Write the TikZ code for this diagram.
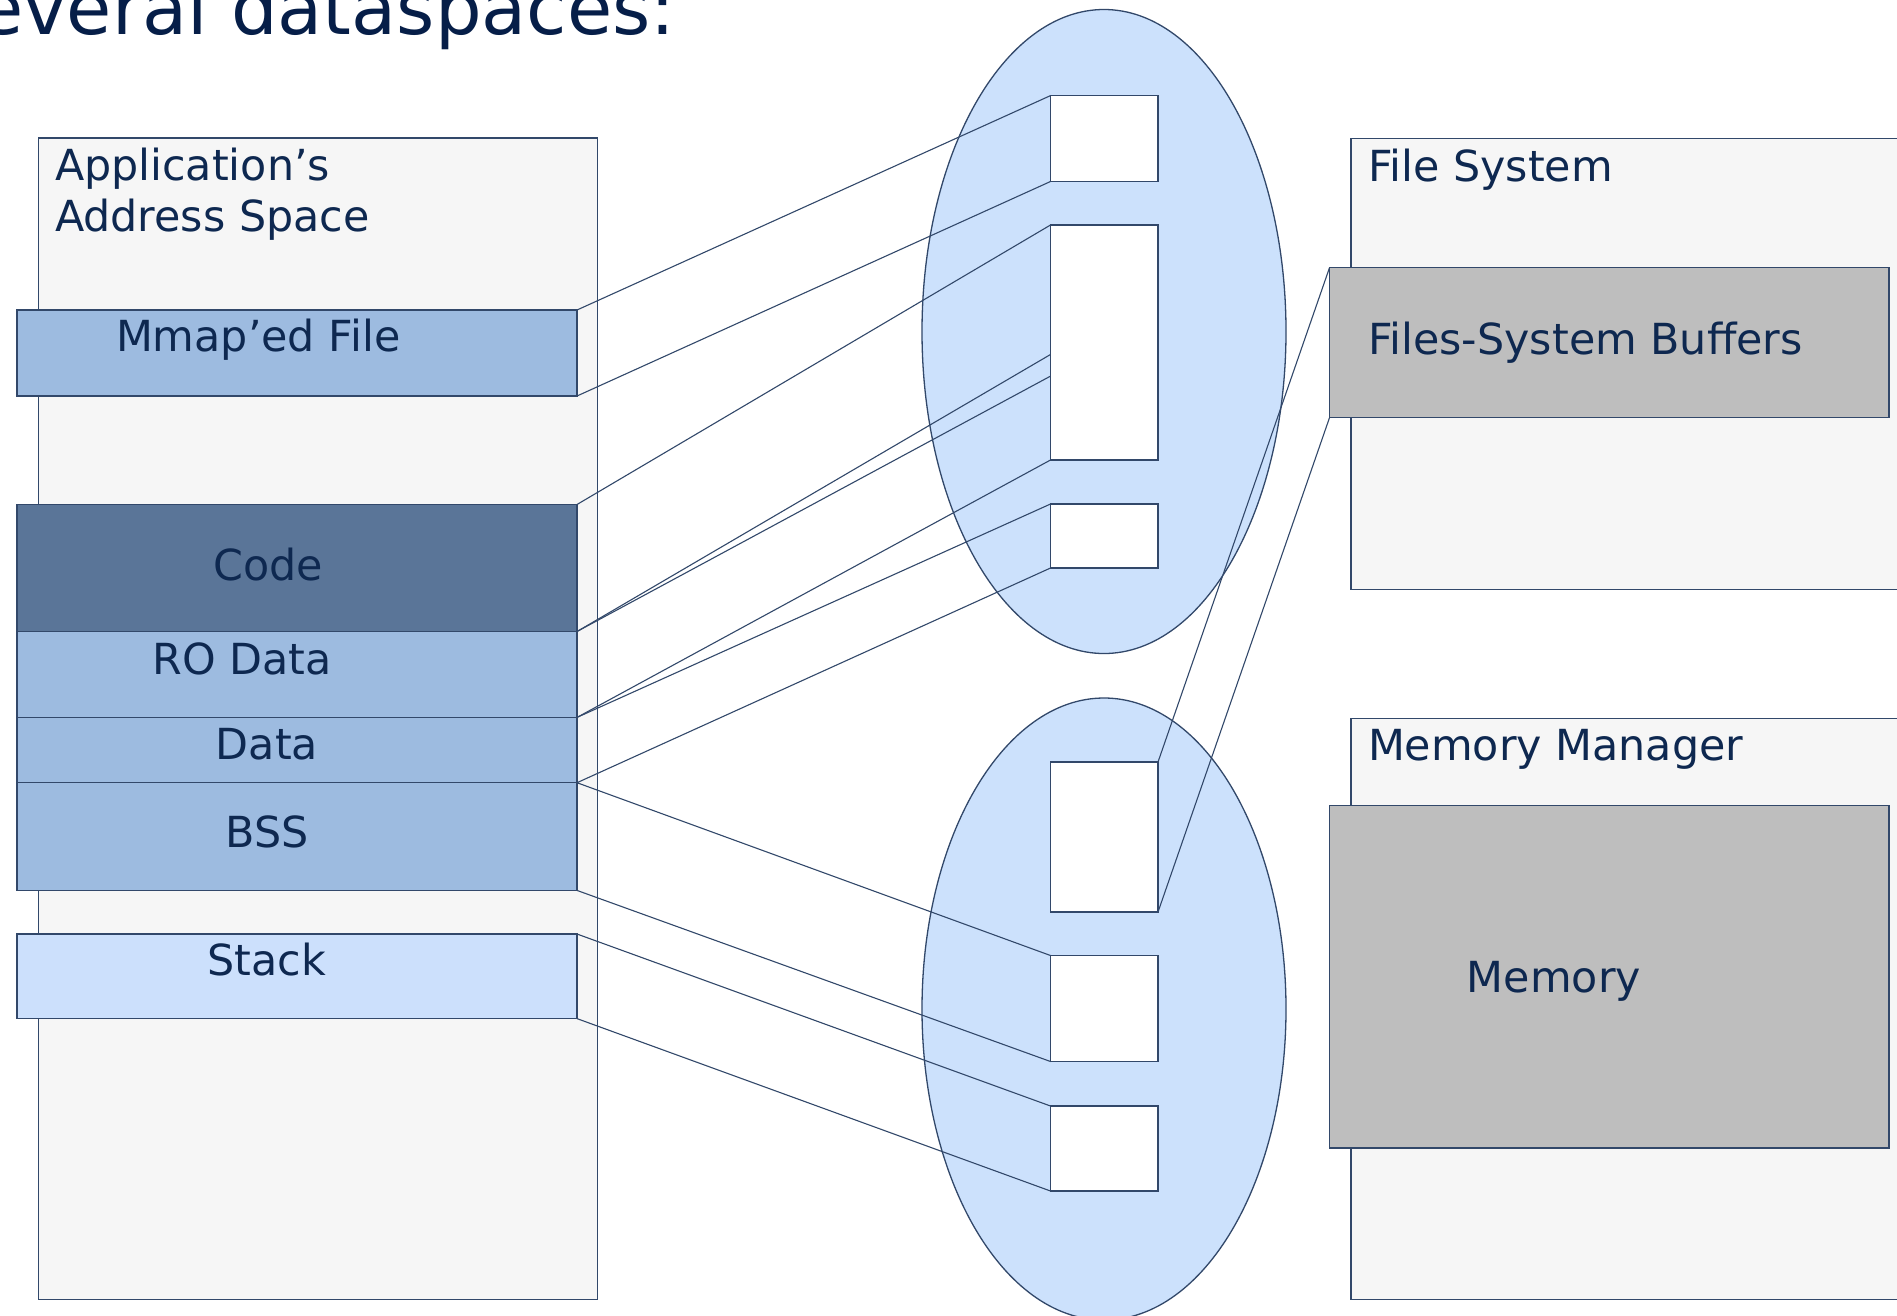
\documentclass[tikz,border=0pt]{standalone}
\usepackage{fontspec}
\setmainfont{DejaVu Sans}
\usetikzlibrary{calc,shapes.geometric}
\definecolor{edge}{RGB}{50,72,106}
\definecolor{ink}{RGB}{14,40,80}
\definecolor{titleink}{RGB}{6,30,72}
\definecolor{pale}{RGB}{246,246,246}
\definecolor{midblue}{RGB}{157,187,224}
\definecolor{codeblue}{RGB}{90,117,152}
\definecolor{stackblue}{RGB}{204,224,252}
\definecolor{ellblue}{RGB}{204,225,252}
\definecolor{buffgray}{RGB}{190,190,190}
\newcommand\lblsize{\fontsize{42.8}{50}\selectfont}
\newcommand\ttlsize{\fontsize{73.5}{80}\selectfont}
\begin{document}
\begin{tikzpicture}[x=1pt,y=-1pt,
  box/.style={draw=edge, line width=1.3, inner sep=0, outer sep=0, rectangle},
  lbl/.style={inner sep=0, outer sep=0, text=ink, font=\lblsize},
  link/.style={draw=edge, line width=1.1},
  slot/.style={box, fill=white, minimum width=107.5},
  layer/.style={box, minimum width=560.1}]
\useasboundingbox (0,0) rectangle (1897,1315);
\clip (0,0) rectangle (1897,1315);
\fill[white] (0,0) rectangle (1897,1315);

% title
\node[inner sep=0, anchor=base west, text=titleink, font=\ttlsize] (title) at (-22,34) {everal dataspaces:};

% application address space
\node[box, fill=pale, minimum width=558.9, minimum height=1161.3] (app) at (318.15,718.65) {};
\node[lbl, anchor=base west] (appA) at (55,180) {Application’s};
\node[lbl, anchor=base west] (appB) at (55,231) {Address Space};

\node[layer, fill=midblue, minimum height=86] (mmap) at (296.95,353) {};
\node[layer, fill=codeblue, minimum height=127] (code) at (296.95,568) {};
\node[layer, fill=midblue, minimum height=85.9] (ro) at (296.95,674.45) {};
\node[layer, fill=midblue, minimum height=65.3] (data) at (296.95,750.05) {};
\node[layer, fill=midblue, minimum height=107.7] (bss) at (296.95,836.55) {};
\node[layer, fill=stackblue, minimum height=84.6] (stack) at (296.95,976.3) {};

\node[lbl, anchor=base west] (mmapT) at (116,351) {Mmap’ed File};
\node[lbl, anchor=base] (codeT) at (268,580) {Code};
\node[lbl, anchor=base] (roT) at (242,674) {RO Data};
\node[lbl, anchor=base] (dataT) at (267,759) {Data};
\node[lbl, anchor=base] (bssT) at (267,847) {BSS};
\node[lbl, anchor=base] (stackT) at (267,975) {Stack};

% ellipses
\node[ellipse, draw=edge, line width=1.3, fill=ellblue, inner sep=0, minimum width=364, minimum height=644] (ellA) at (1104,331.5) {};
\node[ellipse, draw=edge, line width=1.3, fill=ellblue, inner sep=0, minimum width=364, minimum height=622] (ellB) at (1104,1009) {};

\node[slot, minimum height=85.9] (r1) at (1104.25,138.55) {};
\node[slot, minimum height=235] (r2) at (1104.25,342.5) {};
\node[slot, minimum height=64] (r3) at (1104.25,536) {};
\node[slot, minimum height=150] (r4) at (1104.25,837) {};
\node[slot, minimum height=106] (r5) at (1104.25,1008.5) {};
\node[slot, minimum height=85] (r6) at (1104.25,1148.5) {};

% file system
\node[box, fill=pale, minimum width=569, minimum height=450.9] (fs) at (1635.5,363.75) {};
\node[box, fill=buffgray, minimum width=559.4, minimum height=150] (buf) at (1609.3,342.4) {};
\node[lbl, anchor=base west] (fsT) at (1368,181) {File System};
\node[lbl, anchor=base west] (bufT) at (1368,354) {Files-System Buffers};

% memory manager
\node[box, fill=pale, minimum width=569, minimum height=580.7] (mm) at (1635.5,1008.95) {};
\node[box, fill=buffgray, minimum width=559.4, minimum height=342.4] (mem) at (1609.3,976.9) {};
\node[lbl, anchor=base west] (mmT) at (1368,760) {Memory Manager};
\node[lbl, anchor=base] (memT) at (1554,992) {Memory};

% connectors
\coordinate (r2a) at ($(r2.north west)!0.551!(r2.south west)$);
\coordinate (r2b) at ($(r2.north west)!0.643!(r2.south west)$);
\draw[link] (mmap.north east) -- (r1.north west);
\draw[link] (mmap.south east) -- (r1.south west);
\draw[link] (code.north east) -- (r2.north west);
\draw[link] (code.south east) -- (r2a);
\draw[link] (code.south east) -- (r2b);
\draw[link] (ro.south east) -- (r2.south west);
\draw[link] (ro.south east) -- (r3.north west);
\draw[link] (data.south east) -- (r3.south west);
\draw[link] (data.south east) -- (r5.north west);
\draw[link] (bss.south east) -- (r5.south west);
\draw[link] (stack.north east) -- (r6.north west);
\draw[link] (stack.south east) -- (r6.south west);
\draw[link] (buf.north west) -- (r4.north east);
\draw[link] (buf.south west) -- (r4.south east);
\end{tikzpicture}
\end{document}
